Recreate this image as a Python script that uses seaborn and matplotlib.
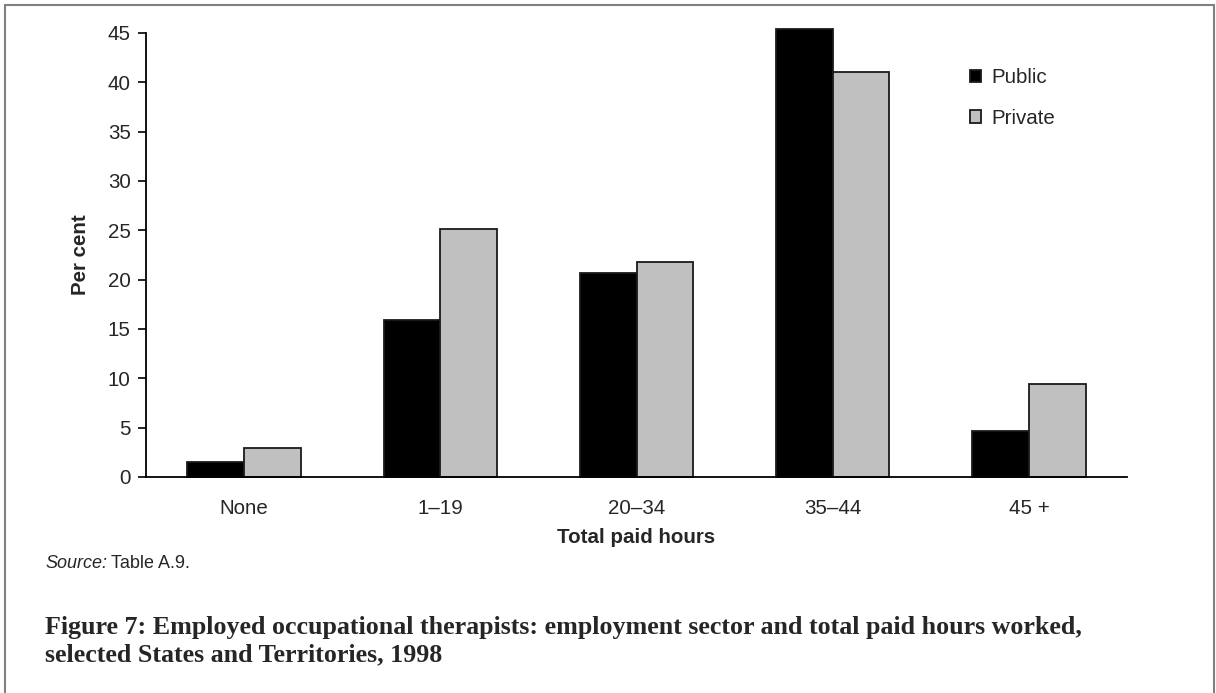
import seaborn as sns
import matplotlib.pyplot as plt
import pandas as pd
from matplotlib.lines import Line2D
from matplotlib.patches import Patch

hours = ["None", "1–19", "20–34", "35–44", "45 +"]
public = [1.5, 15.9, 20.7, 45.4, 4.7]
private = [2.9, 25.1, 21.8, 41.0, 9.4]
sectors = ["Public", "Private"]
colors = ["#000000", "#c0c0c0"]

FS = 14.8


def main():
    sns.set_style("white")
    plt.rcParams["font.family"] = ["Liberation Sans", "DejaVu Sans"]

    data = pd.DataFrame({
        "hours": hours * 2,
        "sector": ["Public"] * len(hours) + ["Private"] * len(hours),
        "value": public + private,
    })

    W, H = 1216, 693
    fig = plt.figure(figsize=(W / 100, H / 100), dpi=100)
    ax = fig.add_axes([146 / W, 1 - 477 / H, (1127 - 146) / W, (477 - 33) / H])

    sns.barplot(data=data, x="hours", y="value", hue="sector", hue_order=sectors,
                palette=colors, width=0.577, edgecolor="#1a1a1a", linewidth=1.3,
                saturation=1, ax=ax, legend=False)
    for bar in ax.patches:
        bar.set_clip_on(False)

    ax.set_ylim(0, 45)
    ax.set_yticks(range(0, 46, 5))
    ax.set_xlim(-0.5, len(hours) - 0.5)
    ax.set_xticks([i - 0.5 for i in range(len(hours) + 1)], minor=True)
    ax.tick_params(axis="x", which="major", length=0, pad=16, labelsize=FS)
    ax.tick_params(axis="x", which="minor", length=6, width=1.2, color="black", direction="out")
    ax.tick_params(axis="y", length=6, width=1.2, color="black", direction="out", labelsize=FS, pad=5)
    ax.tick_params(bottom=True, left=True)

    sns.despine(ax=ax, top=True, right=True)
    for side in ["left", "bottom"]:
        ax.spines[side].set_color("black")
        ax.spines[side].set_linewidth(1.3)

    ax.set_xlabel("Total paid hours", fontsize=FS, fontweight="bold", labelpad=7)
    ax.set_ylabel("Per cent", fontsize=FS, fontweight="bold", labelpad=13)

    handles = [Patch(facecolor=c, edgecolor="#1a1a1a", linewidth=1.3) for c in colors]
    fig.legend(handles, sectors, loc="upper left", bbox_to_anchor=(970 / W, 1 - 68 / H),
               frameon=False, fontsize=FS, handlelength=0.55, handleheight=0.55,
               handletextpad=0.5, labelspacing=1.05, borderpad=0, borderaxespad=0)

    src = fig.text(45 / W, 1 - 563 / H, "Source:", fontsize=13, style="italic", va="center")
    fig.canvas.draw()
    ext = src.get_window_extent()
    fig.text((ext.x1 + 4) / W, 1 - 563 / H, "Table A.9.", fontsize=13, va="center")

    fig.text(45 / W, 1 - 641 / H,
             "Figure 7: Employed occupational therapists: employment sector and total paid hours worked,\n"
             "selected States and Territories, 1998",
             fontsize=18.7, fontweight="bold", family=["Liberation Serif", "DejaVu Serif"],
             va="center", linespacing=1.22)

    top = 1 - 5 / H
    for x in [5 / W, 1 - 2.5 / W]:
        fig.add_artist(Line2D([x, x], [0, top], color="#808080", linewidth=1.5))
    fig.add_artist(Line2D([5 / W, 1 - 2.5 / W], [top, top], color="#808080", linewidth=1.5))

    plt.savefig("out.png", dpi=100)


if __name__ == "__main__":
    main()
